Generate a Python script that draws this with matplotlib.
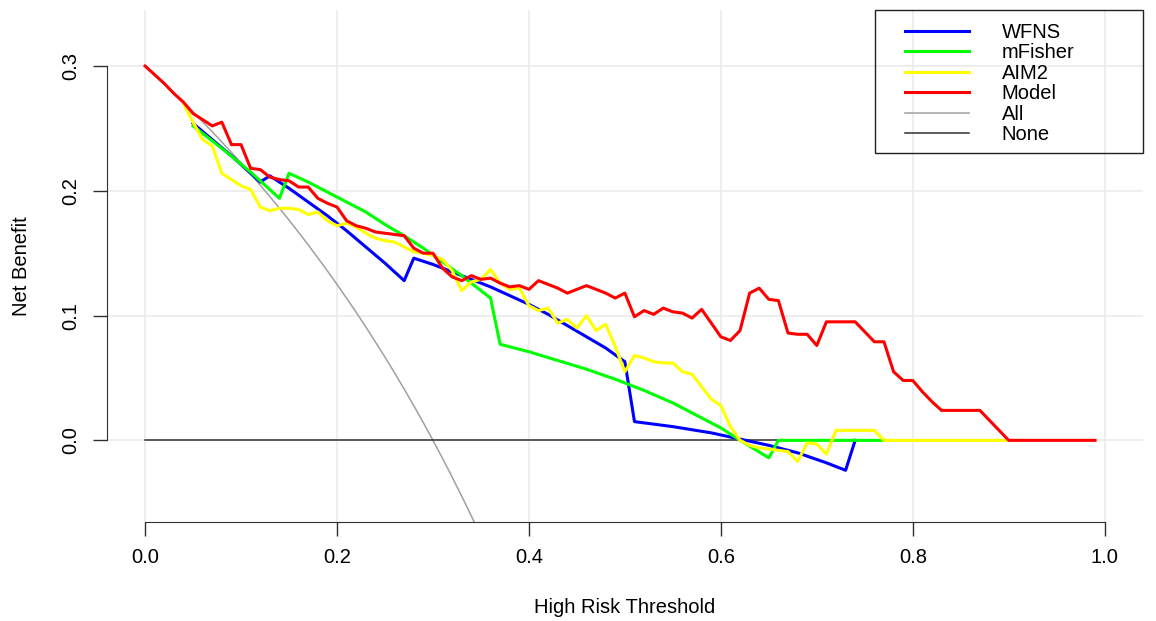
import numpy as np
import matplotlib
matplotlib.use("Agg")
import matplotlib.pyplot as plt
from matplotlib.patches import Rectangle

plt.rcParams['font.family'] = ['Liberation Sans', 'DejaVu Sans']

# thresholds / net benefit
thr_all = np.round(np.arange(0, 0.37, 0.01), 2)
nb_all = [0.3000, 0.2929, 0.2857, 0.2784, 0.2708, 0.2632, 0.2553, 0.2473, 0.2391, 0.2308,
          0.2222, 0.2135, 0.2045, 0.1954, 0.1860, 0.1765, 0.1667, 0.1566, 0.1463, 0.1358,
          0.1250, 0.1139, 0.1026, 0.0909, 0.0789, 0.0667, 0.0541, 0.0411, 0.0278, 0.0141,
          0.0000, -0.0145, -0.0294, -0.0448, -0.0606, -0.0769, -0.0938]

thr_wfns = [0.05, 0.07, 0.09, 0.11, 0.12, 0.13, 0.15, 0.17, 0.19, 0.21, 0.23, 0.25,
            0.27, 0.28, 0.30, 0.32, 0.34, 0.36, 0.38, 0.40, 0.42, 0.44, 0.46, 0.48,
            0.50, 0.51, 0.55, 0.59, 0.62, 0.65, 0.68, 0.71, 0.73, 0.74]
nb_wfns = [0.254, 0.241, 0.228, 0.214, 0.207, 0.212, 0.202, 0.191, 0.180, 0.168, 0.155, 0.142,
           0.128, 0.146, 0.141, 0.135, 0.129, 0.123, 0.116, 0.109, 0.101, 0.092, 0.083, 0.074,
           0.063, 0.015, 0.011, 0.006, 0.001, -0.004, -0.010, -0.018, -0.024, 0.000]

thr_mfisher = [0.05, 0.08, 0.11, 0.14, 0.15, 0.17, 0.19, 0.21, 0.23, 0.25, 0.27, 0.29,
               0.31, 0.33, 0.35, 0.36, 0.37, 0.40, 0.43, 0.46, 0.49, 0.52, 0.55, 0.58,
               0.60, 0.62, 0.65, 0.66, 0.77]
nb_mfisher = [0.252, 0.234, 0.215, 0.194, 0.214, 0.207, 0.199, 0.191, 0.183, 0.173, 0.164, 0.154,
              0.143, 0.132, 0.120, 0.114, 0.077, 0.071, 0.064, 0.057, 0.049, 0.040, 0.030, 0.018,
              0.010, 0.000, -0.014, 0.000, 0.000]

thr_aim2 = np.round(np.arange(0.04, 0.905, 0.01), 2)
nb_aim2 = [0.270, 0.255, 0.241, 0.236, 0.214, 0.209, 0.204, 0.201, 0.187, 0.184,
           0.186, 0.186, 0.185, 0.181, 0.183, 0.176, 0.172, 0.174, 0.171, 0.166,
           0.162, 0.160, 0.159, 0.155, 0.151, 0.150, 0.148, 0.145, 0.136, 0.120,
           0.127, 0.129, 0.137, 0.126, 0.121, 0.122, 0.108, 0.104, 0.106, 0.094,
           0.097, 0.090, 0.100, 0.088, 0.093, 0.075, 0.055, 0.068, 0.066, 0.063,
           0.062, 0.062, 0.055, 0.053, 0.043, 0.033, 0.028, 0.011, 0.000, -0.004,
           -0.006, -0.007, -0.008, -0.009, -0.017, -0.002, -0.003, -0.011, 0.008, 0.008,
           0.008, 0.008, 0.008, 0.000, 0.000, 0.000, 0.000, 0.000, 0.000, 0.000,
           0.000, 0.000, 0.000, 0.000, 0.000, 0.000, 0.000]

thr_model = np.round(np.arange(0, 0.995, 0.01), 2)
nb_model = [0.300, 0.293, 0.286, 0.278, 0.271, 0.262, 0.257, 0.252, 0.255, 0.237,
            0.237, 0.218, 0.217, 0.211, 0.209, 0.208, 0.203, 0.203, 0.194, 0.190,
            0.187, 0.176, 0.172, 0.170, 0.167, 0.166, 0.165, 0.164, 0.154, 0.150,
            0.150, 0.138, 0.131, 0.128, 0.132, 0.129, 0.130, 0.126, 0.123, 0.124,
            0.121, 0.128, 0.125, 0.122, 0.118, 0.121, 0.124, 0.121, 0.118, 0.114,
            0.118, 0.099, 0.104, 0.101, 0.106, 0.103, 0.102, 0.098, 0.105, 0.094,
            0.083, 0.080, 0.088, 0.118, 0.122, 0.113, 0.112, 0.086, 0.085, 0.085,
            0.076, 0.095, 0.095, 0.095, 0.095, 0.087, 0.079, 0.079, 0.055, 0.048,
            0.048, 0.039, 0.031, 0.024, 0.024, 0.024, 0.024, 0.024, 0.016, 0.008,
            0.000, 0.000, 0.000, 0.000, 0.000, 0.000, 0.000, 0.000, 0.000, 0.000]

thr_none = [0.0, 0.99]
nb_none = [0.0, 0.0]

xticks = [0.0, 0.2, 0.4, 0.6, 0.8, 1.0]
yticks = [0.0, 0.1, 0.2, 0.3]

fig = plt.figure(figsize=(11.56, 6.21), dpi=100)
ax = fig.add_axes([0.0923, 0.1599, 0.8965, 0.8246])
ax.set_xlim(-0.04, 1.04)
ax.set_ylim(-0.0652, 0.3452)

for x in xticks:
    ax.axvline(x, color='#ebebeb', lw=1.2, zorder=0)
for y in yticks:
    ax.axhline(y, color='#ebebeb', lw=1.2, zorder=0)

ax.plot(thr_all, nb_all, color='#a0a0a0', lw=1.1, label='All', zorder=2)
ax.plot(thr_none, nb_none, color='#303030', lw=1.1, label='None', zorder=2)
ax.plot(thr_wfns, nb_wfns, color='#0000ff', lw=2.2, label='WFNS', zorder=3)
ax.plot(thr_mfisher, nb_mfisher, color='#00ff00', lw=2.2, label='mFisher', zorder=3)
ax.plot(thr_aim2, nb_aim2, color='#ffff00', lw=2.2, label='AIM2', zorder=3)
ax.plot(thr_model, nb_model, color='#ff0000', lw=2.2, label='Model', zorder=3)

for s in ['top', 'right']:
    ax.spines[s].set_visible(False)
ax.spines['left'].set_bounds(0.0, 0.3)
ax.spines['bottom'].set_bounds(0.0, 1.0)
ax.spines['left'].set_color('#303030')
ax.spines['bottom'].set_color('#303030')

ax.set_xticks(xticks)
ax.set_xticklabels(['%.1f' % v for v in xticks])
ax.set_yticks(yticks)
ax.set_yticklabels(['%.1f' % v for v in yticks], rotation=90, va='center')
ax.tick_params(length=10, width=1, color='#303030', labelsize=14.5, pad=9)

ax.set_xlabel('High Risk Threshold', fontsize=14.5, labelpad=22)
ax.set_ylabel('Net Benefit', fontsize=14.5, labelpad=22)

handles, labels = ax.get_legend_handles_labels()
order = [2, 3, 4, 5, 0, 1]
leg = ax.legend([handles[i] for i in order], [labels[i] for i in order],
                loc='upper left', bbox_to_anchor=(0.7703, 0.974), frameon=False,
                fontsize=14.5, handlelength=3.2, handletextpad=1.6,
                labelspacing=0.07, borderpad=0, borderaxespad=0)
ax.add_patch(Rectangle((0.7414, 0.72), 0.2586, 0.28, transform=ax.transAxes,
                       fill=False, edgecolor='#202020', lw=1.0, zorder=5, clip_on=False))

fig.savefig('out.png', dpi=100)
